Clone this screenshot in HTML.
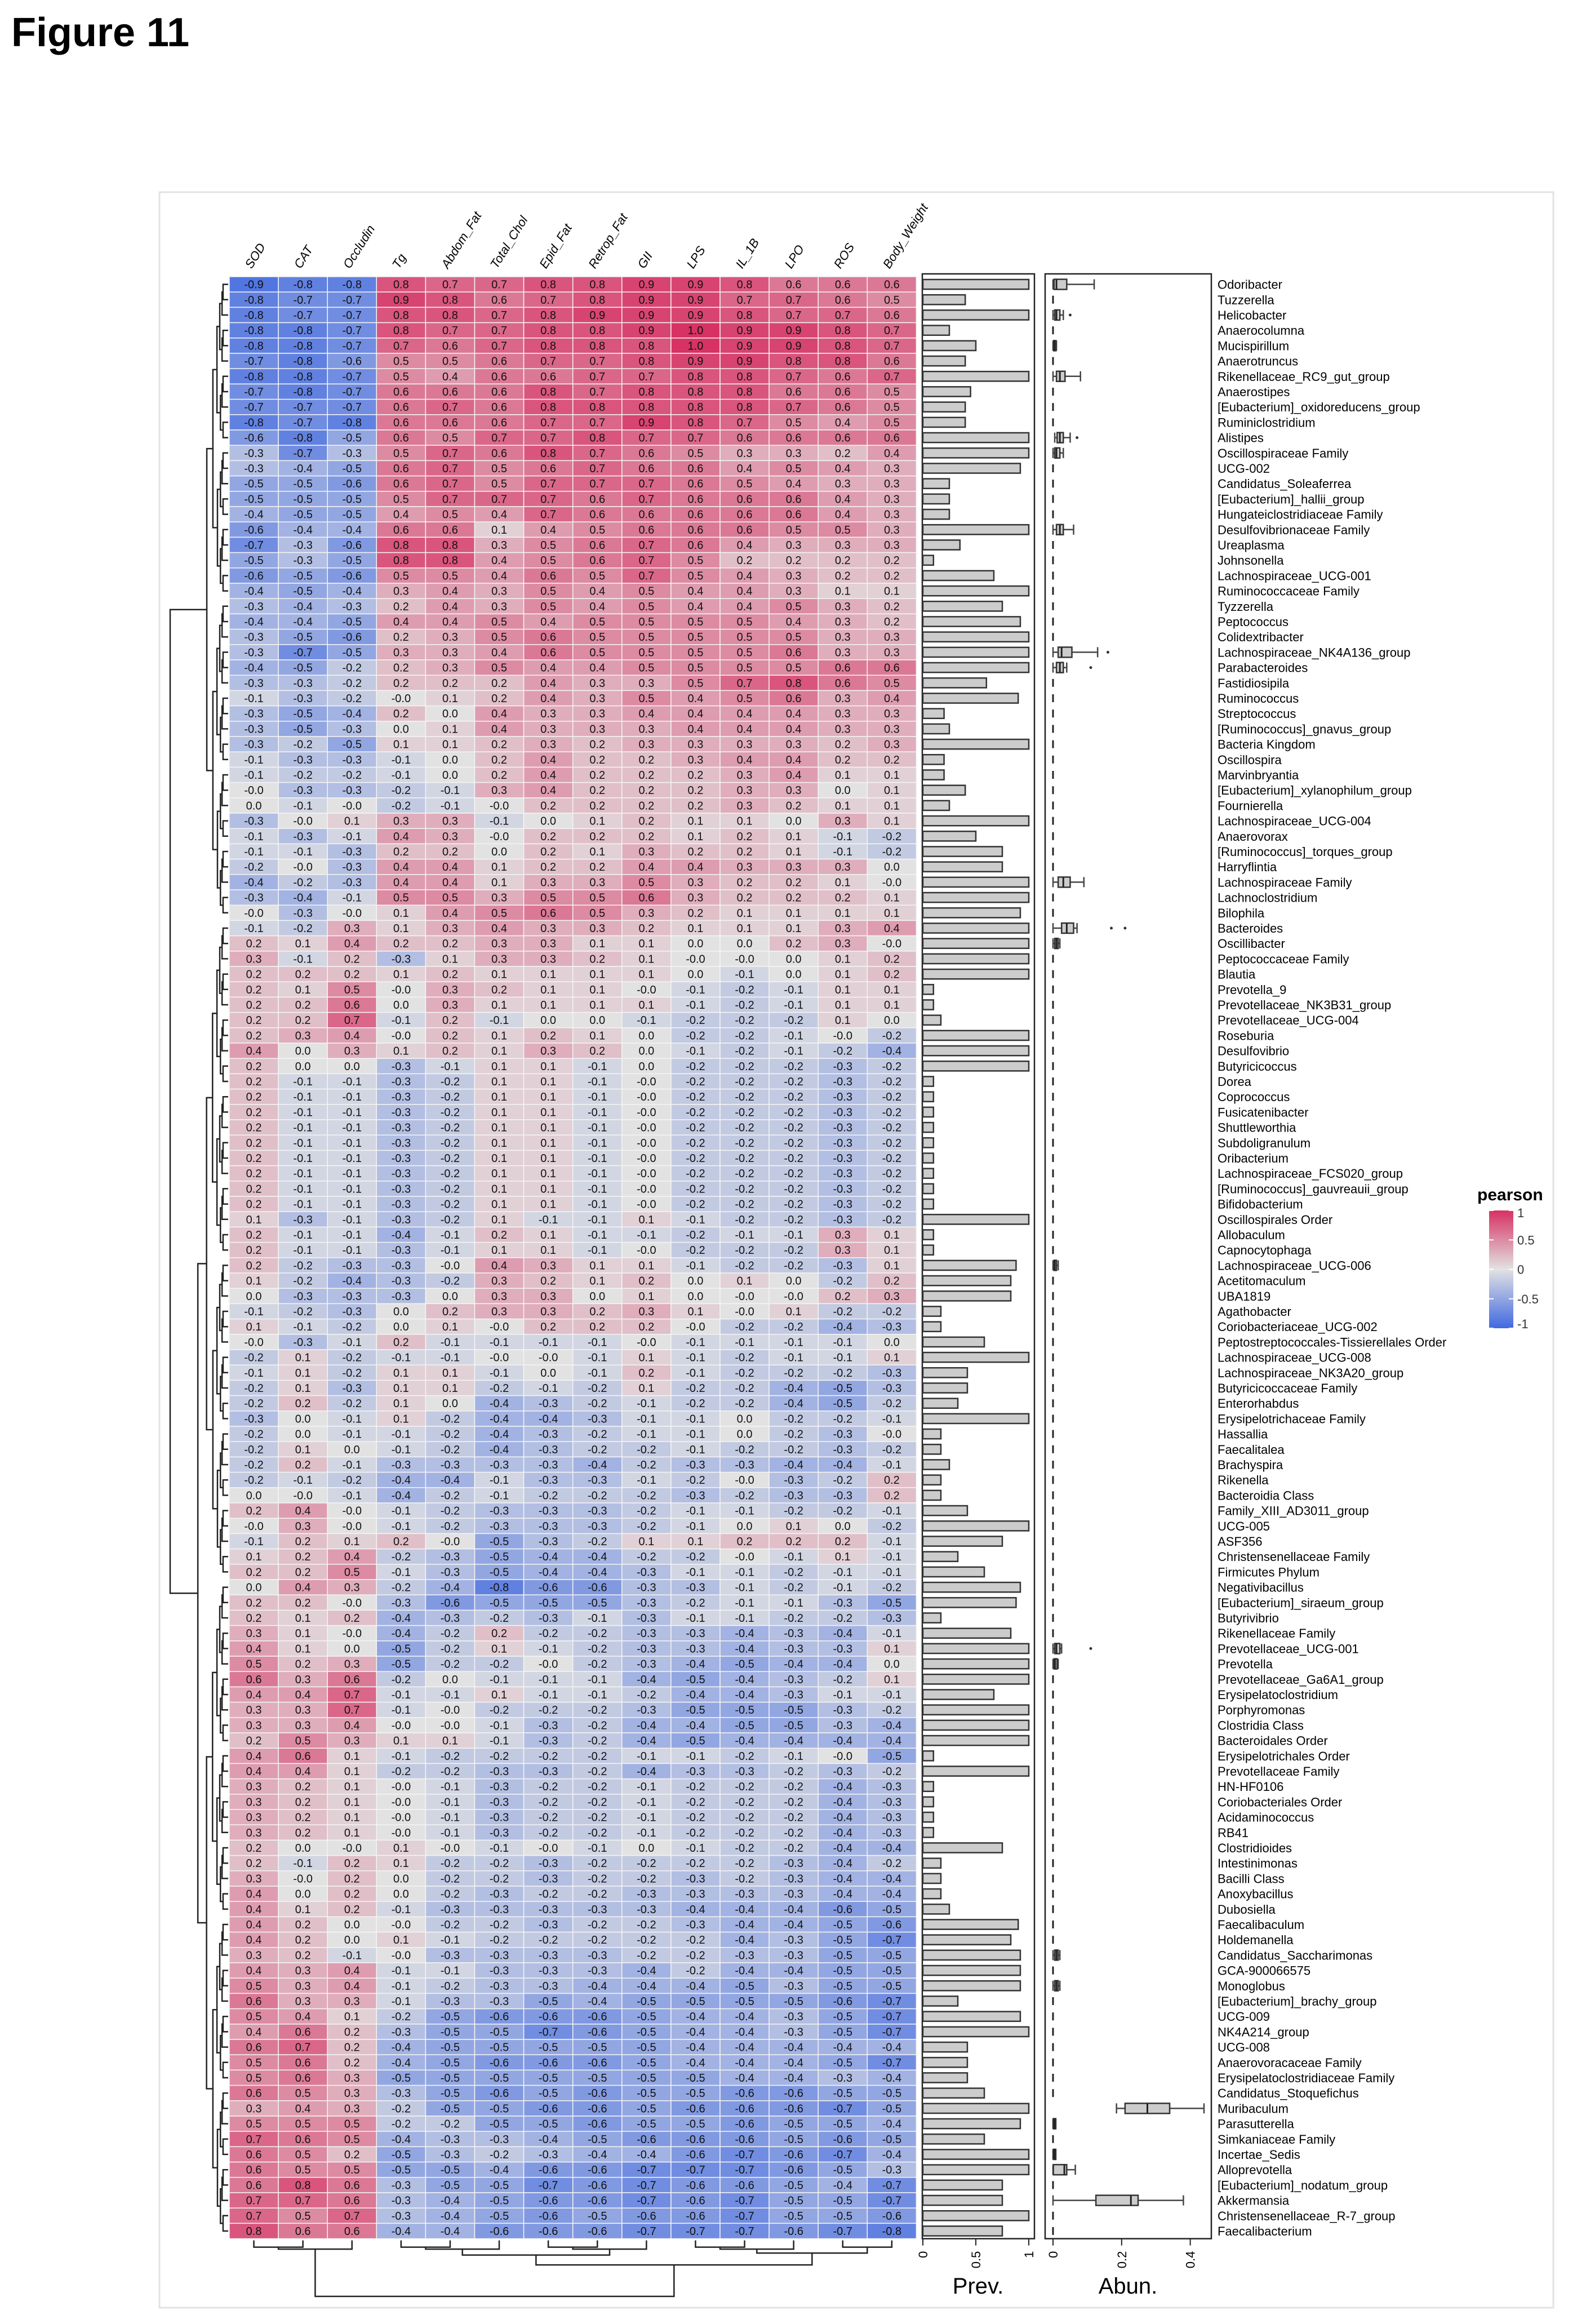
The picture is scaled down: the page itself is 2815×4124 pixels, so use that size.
<!DOCTYPE html>
<html><head><meta charset="utf-8">
<style>
html,body{margin:0;padding:0;background:#fff;}
svg{display:block;}
text{font-family:"Liberation Sans",sans-serif;}
.cv{font-family:"Liberation Sans Narrow","Liberation Sans",sans-serif;font-size:20px;fill:#111;}
</style></head>
<body>
<svg id="fig" width="2815" height="4124" viewBox="0 0 2815 4124" xmlns="http://www.w3.org/2000/svg">
<rect width="2815" height="4124" fill="#fff"/>
<text x="20" y="82" font-size="72" font-weight="bold">Figure 11</text>
<rect x="283" y="341" width="2474" height="3754" fill="none" stroke="#e3e3e3" stroke-width="3"/>
<g id="dendro"></g>
<g id="cdendro"></g>
<g id="heat"></g>
<g id="cols"></g>
<g id="prev"></g>
<g id="abun"></g>
<g id="rows"></g>
<g id="legend">
<defs><linearGradient id="lg" x1="0" y1="0" x2="0" y2="1">
<stop offset="0" stop-color="rgb(215,50,100)"/><stop offset="0.5" stop-color="rgb(226,226,226)"/><stop offset="1" stop-color="rgb(65,105,225)"/></linearGradient></defs>
<text x="2622" y="2130" font-size="30" font-weight="bold">pearson</text>
<rect x="2643" y="2148" width="43" height="209" fill="url(#lg)"/>
</g>
</svg>
<script>
const cols=["SOD","CAT","Occludin","Tg","Abdom_Fat","Total_Chol","Epid_Fat","Retrop_Fat","GII","LPS","IL_1B","LPO","ROS","Body_Weight"];
const taxa=["Odoribacter","Tuzzerella","Helicobacter","Anaerocolumna","Mucispirillum","Anaerotruncus","Rikenellaceae_RC9_gut_group","Anaerostipes","[Eubacterium]_oxidoreducens_group","Ruminiclostridium","Alistipes","Oscillospiraceae Family","UCG-002","Candidatus_Soleaferrea","[Eubacterium]_hallii_group","Hungateiclostridiaceae Family","Desulfovibrionaceae Family","Ureaplasma","Johnsonella","Lachnospiraceae_UCG-001","Ruminococcaceae Family","Tyzzerella","Peptococcus","Colidextribacter","Lachnospiraceae_NK4A136_group","Parabacteroides","Fastidiosipila","Ruminococcus","Streptococcus","[Ruminococcus]_gnavus_group","Bacteria Kingdom","Oscillospira","Marvinbryantia","[Eubacterium]_xylanophilum_group","Fournierella","Lachnospiraceae_UCG-004","Anaerovorax","[Ruminococcus]_torques_group","Harryflintia","Lachnospiraceae Family","Lachnoclostridium","Bilophila","Bacteroides","Oscillibacter","Peptococcaceae Family","Blautia","Prevotella_9","Prevotellaceae_NK3B31_group","Prevotellaceae_UCG-004","Roseburia","Desulfovibrio","Butyricicoccus","Dorea","Coprococcus","Fusicatenibacter","Shuttleworthia","Subdoligranulum","Oribacterium","Lachnospiraceae_FCS020_group","[Ruminococcus]_gauvreauii_group","Bifidobacterium","Oscillospirales Order","Allobaculum","Capnocytophaga","Lachnospiraceae_UCG-006","Acetitomaculum","UBA1819","Agathobacter","Coriobacteriaceae_UCG-002","Peptostreptococcales-Tissierellales Order","Lachnospiraceae_UCG-008","Lachnospiraceae_NK3A20_group","Butyricicoccaceae Family","Enterorhabdus","Erysipelotrichaceae Family","Hassallia","Faecalitalea","Brachyspira","Rikenella","Bacteroidia Class","Family_XIII_AD3011_group","UCG-005","ASF356","Christensenellaceae Family","Firmicutes Phylum","Negativibacillus","[Eubacterium]_siraeum_group","Butyrivibrio","Rikenellaceae Family","Prevotellaceae_UCG-001","Prevotella","Prevotellaceae_Ga6A1_group","Erysipelatoclostridium","Porphyromonas","Clostridia Class","Bacteroidales Order","Erysipelotrichales Order","Prevotellaceae Family","HN-HF0106","Coriobacteriales Order","Acidaminococcus","RB41","Clostridioides","Intestinimonas","Bacilli Class","Anoxybacillus","Dubosiella","Faecalibaculum","Holdemanella","Candidatus_Saccharimonas","GCA-900066575","Monoglobus","[Eubacterium]_brachy_group","UCG-009","NK4A214_group","UCG-008","Anaerovoracaceae Family","Erysipelatoclostridiaceae Family","Candidatus_Stoquefichus","Muribaculum","Parasutterella","Simkaniaceae Family","Incertae_Sedis","Alloprevotella","[Eubacterium]_nodatum_group","Akkermansia","Christensenellaceae_R-7_group","Faecalibacterium"];
const corr=[
[-0.9,-0.8,-0.8,0.8,0.7,0.7,0.8,0.8,0.9,0.9,0.8,0.6,0.6,0.6],
[-0.8,-0.7,-0.7,0.9,0.8,0.6,0.7,0.8,0.9,0.9,0.7,0.7,0.6,0.5],
[-0.8,-0.7,-0.7,0.8,0.8,0.7,0.8,0.9,0.9,0.9,0.8,0.7,0.7,0.6],
[-0.8,-0.8,-0.7,0.8,0.7,0.7,0.8,0.8,0.9,1.0,0.9,0.9,0.8,0.7],
[-0.8,-0.8,-0.7,0.7,0.6,0.7,0.8,0.8,0.8,1.0,0.9,0.9,0.8,0.7],
[-0.7,-0.8,-0.6,0.5,0.5,0.6,0.7,0.7,0.8,0.9,0.9,0.8,0.8,0.6],
[-0.8,-0.8,-0.7,0.5,0.4,0.6,0.6,0.7,0.7,0.8,0.8,0.7,0.6,0.7],
[-0.7,-0.8,-0.7,0.6,0.6,0.6,0.8,0.7,0.8,0.8,0.8,0.6,0.6,0.5],
[-0.7,-0.7,-0.7,0.6,0.7,0.6,0.8,0.8,0.8,0.8,0.8,0.7,0.6,0.5],
[-0.8,-0.7,-0.8,0.6,0.6,0.6,0.7,0.7,0.9,0.8,0.7,0.5,0.4,0.5],
[-0.6,-0.8,-0.5,0.6,0.5,0.7,0.7,0.8,0.7,0.7,0.6,0.6,0.6,0.6],
[-0.3,-0.7,-0.3,0.5,0.7,0.6,0.8,0.7,0.6,0.5,0.3,0.3,0.2,0.4],
[-0.3,-0.4,-0.5,0.6,0.7,0.5,0.6,0.7,0.6,0.6,0.4,0.5,0.4,0.3],
[-0.5,-0.5,-0.6,0.6,0.7,0.5,0.7,0.7,0.7,0.6,0.5,0.4,0.3,0.3],
[-0.5,-0.5,-0.5,0.5,0.7,0.7,0.7,0.6,0.7,0.6,0.6,0.6,0.4,0.3],
[-0.4,-0.5,-0.5,0.4,0.5,0.4,0.7,0.6,0.6,0.6,0.6,0.6,0.4,0.3],
[-0.6,-0.4,-0.4,0.6,0.6,0.1,0.4,0.5,0.6,0.6,0.6,0.5,0.5,0.3],
[-0.7,-0.3,-0.6,0.8,0.8,0.3,0.5,0.6,0.7,0.6,0.4,0.3,0.3,0.3],
[-0.5,-0.3,-0.5,0.8,0.8,0.4,0.5,0.6,0.7,0.5,0.2,0.2,0.2,0.2],
[-0.6,-0.5,-0.6,0.5,0.5,0.4,0.6,0.5,0.7,0.5,0.4,0.3,0.2,0.2],
[-0.4,-0.5,-0.4,0.3,0.4,0.3,0.5,0.4,0.5,0.4,0.4,0.3,0.1,0.1],
[-0.3,-0.4,-0.3,0.2,0.4,0.3,0.5,0.4,0.5,0.4,0.4,0.5,0.3,0.2],
[-0.4,-0.4,-0.5,0.4,0.4,0.5,0.4,0.5,0.5,0.5,0.5,0.4,0.3,0.2],
[-0.3,-0.5,-0.6,0.2,0.3,0.5,0.6,0.5,0.5,0.5,0.5,0.5,0.3,0.3],
[-0.3,-0.7,-0.5,0.3,0.3,0.4,0.6,0.5,0.5,0.5,0.5,0.6,0.3,0.3],
[-0.4,-0.5,-0.2,0.2,0.3,0.5,0.4,0.4,0.5,0.5,0.5,0.5,0.6,0.6],
[-0.3,-0.3,-0.2,0.2,0.2,0.2,0.4,0.3,0.3,0.5,0.7,0.8,0.6,0.5],
[-0.1,-0.3,-0.2,-0.0,0.1,0.2,0.4,0.3,0.5,0.4,0.5,0.6,0.3,0.4],
[-0.3,-0.5,-0.4,0.2,0.0,0.4,0.3,0.3,0.4,0.4,0.4,0.4,0.3,0.3],
[-0.3,-0.5,-0.3,0.0,0.1,0.4,0.3,0.3,0.3,0.4,0.4,0.4,0.3,0.3],
[-0.3,-0.2,-0.5,0.1,0.1,0.2,0.3,0.2,0.3,0.3,0.3,0.3,0.2,0.3],
[-0.1,-0.3,-0.3,-0.1,0.0,0.2,0.4,0.2,0.2,0.3,0.4,0.4,0.2,0.2],
[-0.1,-0.2,-0.2,-0.1,0.0,0.2,0.4,0.2,0.2,0.2,0.3,0.4,0.1,0.1],
[-0.0,-0.3,-0.3,-0.2,-0.1,0.3,0.4,0.2,0.2,0.2,0.3,0.3,0.0,0.1],
[0.0,-0.1,-0.0,-0.2,-0.1,-0.0,0.2,0.2,0.2,0.2,0.3,0.2,0.1,0.1],
[-0.3,-0.0,0.1,0.3,0.3,-0.1,0.0,0.1,0.2,0.1,0.1,0.0,0.3,0.1],
[-0.1,-0.3,-0.1,0.4,0.3,-0.0,0.2,0.2,0.2,0.1,0.2,0.1,-0.1,-0.2],
[-0.1,-0.1,-0.3,0.2,0.2,0.0,0.2,0.1,0.3,0.2,0.2,0.1,-0.1,-0.2],
[-0.2,-0.0,-0.3,0.4,0.4,0.1,0.2,0.2,0.4,0.4,0.3,0.3,0.3,0.0],
[-0.4,-0.2,-0.3,0.4,0.4,0.1,0.3,0.3,0.5,0.3,0.2,0.2,0.1,-0.0],
[-0.3,-0.4,-0.1,0.5,0.5,0.3,0.5,0.5,0.6,0.3,0.2,0.2,0.2,0.1],
[-0.0,-0.3,-0.0,0.1,0.4,0.5,0.6,0.5,0.3,0.2,0.1,0.1,0.1,0.1],
[-0.1,-0.2,0.3,0.1,0.3,0.4,0.3,0.3,0.2,0.1,0.1,0.1,0.3,0.4],
[0.2,0.1,0.4,0.2,0.2,0.3,0.3,0.1,0.1,0.0,0.0,0.2,0.3,-0.0],
[0.3,-0.1,0.2,-0.3,0.1,0.3,0.3,0.2,0.1,-0.0,-0.0,0.0,0.1,0.2],
[0.2,0.2,0.2,0.1,0.2,0.1,0.1,0.1,0.1,0.0,-0.1,0.0,0.1,0.2],
[0.2,0.1,0.5,-0.0,0.3,0.2,0.1,0.1,-0.0,-0.1,-0.2,-0.1,0.1,0.1],
[0.2,0.2,0.6,0.0,0.3,0.1,0.1,0.1,0.1,-0.1,-0.2,-0.1,0.1,0.1],
[0.2,0.2,0.7,-0.1,0.2,-0.1,0.0,0.0,-0.1,-0.2,-0.2,-0.2,0.1,0.0],
[0.2,0.3,0.4,-0.0,0.2,0.1,0.2,0.1,0.0,-0.2,-0.2,-0.1,-0.0,-0.2],
[0.4,0.0,0.3,0.1,0.2,0.1,0.3,0.2,0.0,-0.1,-0.2,-0.1,-0.2,-0.4],
[0.2,0.0,0.0,-0.3,-0.1,0.1,0.1,-0.1,0.0,-0.2,-0.2,-0.2,-0.3,-0.2],
[0.2,-0.1,-0.1,-0.3,-0.2,0.1,0.1,-0.1,-0.0,-0.2,-0.2,-0.2,-0.3,-0.2],
[0.2,-0.1,-0.1,-0.3,-0.2,0.1,0.1,-0.1,-0.0,-0.2,-0.2,-0.2,-0.3,-0.2],
[0.2,-0.1,-0.1,-0.3,-0.2,0.1,0.1,-0.1,-0.0,-0.2,-0.2,-0.2,-0.3,-0.2],
[0.2,-0.1,-0.1,-0.3,-0.2,0.1,0.1,-0.1,-0.0,-0.2,-0.2,-0.2,-0.3,-0.2],
[0.2,-0.1,-0.1,-0.3,-0.2,0.1,0.1,-0.1,-0.0,-0.2,-0.2,-0.2,-0.3,-0.2],
[0.2,-0.1,-0.1,-0.3,-0.2,0.1,0.1,-0.1,-0.0,-0.2,-0.2,-0.2,-0.3,-0.2],
[0.2,-0.1,-0.1,-0.3,-0.2,0.1,0.1,-0.1,-0.0,-0.2,-0.2,-0.2,-0.3,-0.2],
[0.2,-0.1,-0.1,-0.3,-0.2,0.1,0.1,-0.1,-0.0,-0.2,-0.2,-0.2,-0.3,-0.2],
[0.2,-0.1,-0.1,-0.3,-0.2,0.1,0.1,-0.1,-0.0,-0.2,-0.2,-0.2,-0.3,-0.2],
[0.1,-0.3,-0.1,-0.3,-0.2,0.1,-0.1,-0.1,0.1,-0.1,-0.2,-0.2,-0.3,-0.2],
[0.2,-0.1,-0.1,-0.4,-0.1,0.2,0.1,-0.1,-0.1,-0.2,-0.1,-0.1,0.3,0.1],
[0.2,-0.1,-0.1,-0.3,-0.1,0.1,0.1,-0.1,-0.0,-0.2,-0.2,-0.2,0.3,0.1],
[0.2,-0.2,-0.3,-0.3,-0.0,0.4,0.3,0.1,0.1,-0.1,-0.2,-0.2,-0.3,0.1],
[0.1,-0.2,-0.4,-0.3,-0.2,0.3,0.2,0.1,0.2,0.0,0.1,0.0,-0.2,0.2],
[0.0,-0.3,-0.3,-0.3,0.0,0.3,0.3,0.0,0.1,0.0,-0.0,-0.0,0.2,0.3],
[-0.1,-0.2,-0.3,0.0,0.2,0.3,0.3,0.2,0.3,0.1,-0.0,0.1,-0.2,-0.2],
[0.1,-0.1,-0.2,0.0,0.1,-0.0,0.2,0.2,0.2,-0.0,-0.2,-0.2,-0.4,-0.3],
[-0.0,-0.3,-0.1,0.2,-0.1,-0.1,-0.1,-0.1,-0.0,-0.1,-0.1,-0.1,-0.1,0.0],
[-0.2,0.1,-0.2,-0.1,-0.1,-0.0,-0.0,-0.1,0.1,-0.1,-0.2,-0.1,-0.1,0.1],
[-0.1,0.1,-0.2,0.1,0.1,-0.1,0.0,-0.1,0.2,-0.1,-0.2,-0.2,-0.2,-0.3],
[-0.2,0.1,-0.3,0.1,0.1,-0.2,-0.1,-0.2,0.1,-0.2,-0.2,-0.4,-0.5,-0.3],
[-0.2,0.2,-0.2,0.1,0.0,-0.4,-0.3,-0.2,-0.1,-0.2,-0.2,-0.4,-0.5,-0.2],
[-0.3,0.0,-0.1,0.1,-0.2,-0.4,-0.4,-0.3,-0.1,-0.1,0.0,-0.2,-0.2,-0.1],
[-0.2,0.0,-0.1,-0.1,-0.2,-0.4,-0.3,-0.2,-0.1,-0.1,0.0,-0.2,-0.3,-0.0],
[-0.2,0.1,0.0,-0.1,-0.2,-0.4,-0.3,-0.2,-0.2,-0.1,-0.2,-0.2,-0.3,-0.2],
[-0.2,0.2,-0.1,-0.3,-0.3,-0.3,-0.3,-0.4,-0.2,-0.3,-0.3,-0.4,-0.4,-0.1],
[-0.2,-0.1,-0.2,-0.4,-0.4,-0.1,-0.3,-0.3,-0.1,-0.2,-0.0,-0.3,-0.2,0.2],
[0.0,-0.0,-0.1,-0.4,-0.2,-0.1,-0.2,-0.2,-0.2,-0.3,-0.2,-0.3,-0.3,0.2],
[0.2,0.4,-0.0,-0.1,-0.2,-0.3,-0.3,-0.3,-0.2,-0.1,-0.1,-0.2,-0.2,-0.1],
[-0.0,0.3,-0.0,-0.1,-0.2,-0.3,-0.3,-0.3,-0.2,-0.1,0.0,0.1,0.0,-0.2],
[-0.1,0.2,0.1,0.2,-0.0,-0.5,-0.3,-0.2,0.1,0.1,0.2,0.2,0.2,-0.1],
[0.1,0.2,0.4,-0.2,-0.3,-0.5,-0.4,-0.4,-0.2,-0.2,-0.0,-0.1,0.1,-0.1],
[0.2,0.2,0.5,-0.1,-0.3,-0.5,-0.4,-0.4,-0.3,-0.1,-0.1,-0.2,-0.1,-0.1],
[0.0,0.4,0.3,-0.2,-0.4,-0.8,-0.6,-0.6,-0.3,-0.3,-0.1,-0.2,-0.1,-0.2],
[0.2,0.2,-0.0,-0.3,-0.6,-0.5,-0.5,-0.5,-0.3,-0.2,-0.1,-0.1,-0.3,-0.5],
[0.2,0.1,0.2,-0.4,-0.3,-0.2,-0.3,-0.1,-0.3,-0.1,-0.1,-0.2,-0.2,-0.3],
[0.3,0.1,-0.0,-0.4,-0.2,0.2,-0.2,-0.2,-0.3,-0.3,-0.4,-0.3,-0.4,-0.1],
[0.4,0.1,0.0,-0.5,-0.2,0.1,-0.1,-0.2,-0.3,-0.3,-0.4,-0.3,-0.3,0.1],
[0.5,0.2,0.3,-0.5,-0.2,-0.2,-0.0,-0.2,-0.3,-0.4,-0.5,-0.4,-0.4,0.0],
[0.6,0.3,0.6,-0.2,0.0,-0.1,-0.1,-0.1,-0.4,-0.5,-0.4,-0.3,-0.2,0.1],
[0.4,0.4,0.7,-0.1,-0.1,0.1,-0.1,-0.1,-0.2,-0.4,-0.4,-0.3,-0.1,-0.1],
[0.3,0.3,0.7,-0.1,-0.0,-0.2,-0.2,-0.2,-0.3,-0.5,-0.5,-0.5,-0.3,-0.2],
[0.3,0.3,0.4,-0.0,-0.0,-0.1,-0.3,-0.2,-0.4,-0.4,-0.5,-0.5,-0.3,-0.4],
[0.2,0.5,0.3,0.1,0.1,-0.1,-0.3,-0.2,-0.4,-0.5,-0.4,-0.4,-0.4,-0.4],
[0.4,0.6,0.1,-0.1,-0.2,-0.2,-0.2,-0.2,-0.1,-0.1,-0.2,-0.1,-0.0,-0.5],
[0.4,0.4,0.1,-0.2,-0.2,-0.3,-0.3,-0.2,-0.4,-0.3,-0.3,-0.2,-0.3,-0.2],
[0.3,0.2,0.1,-0.0,-0.1,-0.3,-0.2,-0.2,-0.1,-0.2,-0.2,-0.2,-0.4,-0.3],
[0.3,0.2,0.1,-0.0,-0.1,-0.3,-0.2,-0.2,-0.1,-0.2,-0.2,-0.2,-0.4,-0.3],
[0.3,0.2,0.1,-0.0,-0.1,-0.3,-0.2,-0.2,-0.1,-0.2,-0.2,-0.2,-0.4,-0.3],
[0.3,0.2,0.1,-0.0,-0.1,-0.3,-0.2,-0.2,-0.1,-0.2,-0.2,-0.2,-0.4,-0.3],
[0.2,0.0,-0.0,0.1,-0.0,-0.1,-0.0,-0.1,0.0,-0.1,-0.2,-0.2,-0.4,-0.4],
[0.2,-0.1,0.2,0.1,-0.2,-0.2,-0.3,-0.2,-0.2,-0.2,-0.2,-0.3,-0.4,-0.2],
[0.3,-0.0,0.2,0.0,-0.2,-0.2,-0.3,-0.2,-0.2,-0.3,-0.2,-0.3,-0.4,-0.4],
[0.4,0.0,0.2,0.0,-0.2,-0.3,-0.2,-0.2,-0.3,-0.3,-0.3,-0.3,-0.4,-0.4],
[0.4,0.1,0.2,-0.1,-0.3,-0.3,-0.3,-0.3,-0.3,-0.4,-0.4,-0.4,-0.6,-0.5],
[0.4,0.2,0.0,-0.0,-0.2,-0.2,-0.3,-0.2,-0.2,-0.3,-0.4,-0.4,-0.5,-0.6],
[0.4,0.2,0.0,0.1,-0.1,-0.2,-0.2,-0.2,-0.2,-0.2,-0.4,-0.3,-0.5,-0.7],
[0.3,0.2,-0.1,-0.0,-0.3,-0.3,-0.3,-0.3,-0.2,-0.2,-0.3,-0.3,-0.5,-0.5],
[0.4,0.3,0.4,-0.1,-0.1,-0.3,-0.3,-0.3,-0.4,-0.2,-0.4,-0.4,-0.5,-0.5],
[0.5,0.3,0.4,-0.1,-0.2,-0.3,-0.3,-0.4,-0.4,-0.4,-0.5,-0.3,-0.5,-0.5],
[0.6,0.3,0.3,-0.1,-0.3,-0.3,-0.5,-0.4,-0.5,-0.5,-0.5,-0.5,-0.6,-0.7],
[0.5,0.4,0.1,-0.2,-0.5,-0.6,-0.6,-0.6,-0.5,-0.4,-0.4,-0.3,-0.5,-0.7],
[0.4,0.6,0.2,-0.3,-0.5,-0.5,-0.7,-0.6,-0.5,-0.4,-0.4,-0.3,-0.5,-0.7],
[0.6,0.7,0.2,-0.4,-0.5,-0.5,-0.5,-0.5,-0.5,-0.4,-0.4,-0.4,-0.4,-0.4],
[0.5,0.6,0.2,-0.4,-0.5,-0.6,-0.6,-0.6,-0.5,-0.4,-0.4,-0.4,-0.5,-0.7],
[0.5,0.6,0.3,-0.5,-0.5,-0.5,-0.5,-0.5,-0.5,-0.5,-0.4,-0.4,-0.3,-0.4],
[0.6,0.5,0.3,-0.3,-0.5,-0.6,-0.5,-0.6,-0.5,-0.5,-0.6,-0.6,-0.5,-0.5],
[0.3,0.4,0.3,-0.2,-0.5,-0.5,-0.6,-0.6,-0.5,-0.6,-0.6,-0.6,-0.7,-0.5],
[0.5,0.5,0.5,-0.2,-0.2,-0.5,-0.5,-0.6,-0.5,-0.5,-0.6,-0.5,-0.5,-0.4],
[0.7,0.6,0.5,-0.4,-0.3,-0.3,-0.4,-0.5,-0.6,-0.6,-0.6,-0.5,-0.6,-0.5],
[0.6,0.5,0.2,-0.5,-0.3,-0.2,-0.3,-0.4,-0.4,-0.6,-0.7,-0.6,-0.7,-0.4],
[0.6,0.5,0.5,-0.5,-0.5,-0.4,-0.6,-0.6,-0.7,-0.7,-0.7,-0.6,-0.5,-0.3],
[0.6,0.8,0.6,-0.3,-0.5,-0.5,-0.7,-0.6,-0.7,-0.6,-0.6,-0.5,-0.4,-0.7],
[0.7,0.7,0.6,-0.3,-0.4,-0.5,-0.6,-0.6,-0.7,-0.6,-0.7,-0.5,-0.5,-0.7],
[0.7,0.5,0.7,-0.3,-0.4,-0.5,-0.6,-0.5,-0.6,-0.6,-0.7,-0.5,-0.5,-0.6],
[0.8,0.6,0.6,-0.4,-0.4,-0.6,-0.6,-0.6,-0.7,-0.7,-0.7,-0.6,-0.7,-0.8]
];
const prevalence=[1,0.4,1,0.25,0.5,0.4,1,0.45,0.4,0.4,1,1,0.92,0.25,0.25,0.25,1,0.35,0.1,0.67,1,0.75,0.92,1,1,1,0.6,0.9,0.2,0.25,1,0.2,0.2,0.4,0.25,1,0.5,0.75,0.75,1,1,0.92,1,1,1,1,0.1,0.1,0.17,1,1,1,0.1,0.1,0.1,0.1,0.1,0.1,0.1,0.1,0.1,1,0.1,0.1,0.88,0.83,0.83,0.17,0.17,0.58,1,0.42,0.42,0.33,1,0.17,0.17,0.25,0.17,0.17,0.42,1,0.75,0.33,0.58,0.92,0.88,0.17,0.83,1,1,1,0.67,1,1,1,0.1,1,0.1,0.1,0.1,0.1,0.75,0.17,0.17,0.17,0.25,0.9,0.83,0.92,0.92,0.92,0.33,0.92,1,0.42,0.42,0.42,0.58,1,0.92,0.58,1,1,0.75,0.75,1,0.75];
const prevTicks=[0,0.5,1];
const abunTicks=[0,0.2,0.4];
const abunTaxa=["Odoribacter","Helicobacter","Mucispirillum","Rikenellaceae_RC9_gut_group","Alistipes","Oscillospiraceae Family","Desulfovibrionaceae Family","Lachnospiraceae_NK4A136_group","Parabacteroides","Lachnospiraceae Family","Bacteroides","Oscillibacter","Lachnospiraceae_UCG-006","Prevotellaceae_UCG-001","Prevotella","Candidatus_Saccharimonas","Monoglobus","Muribaculum","Parasutterella","Incertae_Sedis","Alloprevotella","Akkermansia"];
const abunMin=[0,0,0,0,0.005,0,0,0,0,0,0,0,0,0,0,0,0,0.185,0,0,0,0];
const abunQ1=[0.003,0.005,0.002,0.01,0.012,0.005,0.01,0.015,0.01,0.015,0.025,0.005,0.003,0.005,0.003,0.005,0.005,0.21,0.001,0.001,0.001,0.125];
const abunMed=[0.01,0.01,0.004,0.02,0.02,0.01,0.02,0.025,0.02,0.03,0.04,0.01,0.005,0.01,0.006,0.01,0.01,0.275,0.004,0.004,0.033,0.227];
const abunQ3=[0.04,0.02,0.008,0.035,0.03,0.02,0.03,0.055,0.03,0.05,0.06,0.015,0.01,0.02,0.012,0.015,0.015,0.34,0.008,0.008,0.04,0.248];
const abunMax=[0.12,0.03,0.01,0.08,0.05,0.03,0.06,0.13,0.04,0.09,0.07,0.02,0.015,0.025,0.015,0.02,0.02,0.44,0.008,0.008,0.065,0.38];
const abunOutliers=[[],[0.05],[],[],[0.07],[],[],[0.16],[0.11],[],[0.17,0.21],[],[],[0.11],[],[],[],[],[],[],[],[]];

const NS="http://www.w3.org/2000/svg";
function mk(tag,attrs,parent){const e=document.createElementNS(NS,tag);for(const k in attrs)e.setAttribute(k,attrs[k]);parent.appendChild(e);return e;}
const X0=407,CW=87.1,Y0=491,RH=27.2;
const xCol=j=>X0+j*CW;
const yRow=i=>Y0+i*RH;
function color(v){const m=[226,226,226],b=[65,105,225],r=[215,50,100];const t=Math.min(1,Math.abs(v));const c=v<0?b:r;return `rgb(${m.map((q,k)=>Math.round(q+t*(c[k]-q))).join(',')})`;}
const heat=document.getElementById('heat');
corr.forEach((row,i)=>{row.forEach((v,j)=>{
 const r=mk('rect',{x:xCol(j),y:yRow(i),width:CW,height:RH,fill:color(v),stroke:'#f4f4f4','stroke-width':1.5},heat);
 
 
 const t=mk('text',{x:xCol(j)+CW/2,y:yRow(i)+RH/2+7,'text-anchor':'middle',class:'cv'},heat);
 t.textContent=(Object.is(v,-0)?'-0.0':v.toFixed(1));
 
 
});});
const HB=yRow(128);
const cg=document.getElementById('cols');
cols.forEach((c,j)=>{const x=xCol(j)+CW/2-4,y=478;
 const t=mk('text',{x:x,y:y,'font-size':22,transform:`rotate(-58 ${x} ${y})`,'font-style':'italic'},cg);t.textContent=c;
 
 });
const rg=document.getElementById('rows');
taxa.forEach((n,i)=>{const t=mk('text',{x:2161,y:yRow(i)+RH/2+8,'font-size':22},rg);t.textContent=n;
 
 });
// prevalence
const pg=document.getElementById('prev');
const PX0=1638,PX1=1826;
const xPrev=v=>PX0+v*(PX1-PX0);
mk('rect',{x:1637,y:486,width:199,height:HB-486,fill:'none',stroke:'#222','stroke-width':2.5},pg);
prevalence.forEach((v,i)=>{const r=mk('rect',{x:xPrev(0),y:yRow(i)+5,width:xPrev(v)-xPrev(0),height:RH-10,fill:'#cccccc',stroke:'#333','stroke-width':2.5},pg);
 
 });
prevTicks.forEach(t=>{const x=xPrev(t);mk('line',{x1:x,y1:HB,x2:x,y2:HB+12,stroke:'#222','stroke-width':2},pg);
 const tx=mk('text',{x:x+8,y:HB+22,'font-size':22,'text-anchor':'end',transform:`rotate(-90 ${x+8} ${HB+22})`},pg);tx.textContent=String(t);
 
 });
const pl=mk('text',{x:1736,y:4070,'font-size':40,'text-anchor':'middle'},pg);pl.textContent='Prev.';


// abundance
const ag=document.getElementById('abun');
const AX0=1869,AS=609;
const xAb=v=>AX0+v*AS;
mk('rect',{x:1855,y:486,width:295,height:HB-486,fill:'none',stroke:'#222','stroke-width':2.5},ag);
taxa.forEach((n,i)=>{const k=abunTaxa.indexOf(n);const cy=yRow(i)+RH/2;
 if(k<0){const l=mk('line',{x1:xAb(0),y1:cy-7,x2:xAb(0),y2:cy+7,stroke:'#222','stroke-width':3},ag);
  
  return;}
 const g=mk('g',{},ag);
 
 
 mk('line',{x1:xAb(abunMin[k]),y1:cy,x2:xAb(abunQ1[k]),y2:cy,stroke:'#444','stroke-width':2.5},g);
 mk('line',{x1:xAb(abunQ3[k]),y1:cy,x2:xAb(abunMax[k]),y2:cy,stroke:'#444','stroke-width':2.5},g);
 mk('line',{x1:xAb(abunMax[k]),y1:cy-9,x2:xAb(abunMax[k]),y2:cy+9,stroke:'#444','stroke-width':2.5},g);
 mk('line',{x1:xAb(abunMin[k]),y1:cy-9,x2:xAb(abunMin[k]),y2:cy+9,stroke:'#444','stroke-width':2.5},g);
 mk('rect',{x:xAb(abunQ1[k]),y:cy-9,width:Math.max(4,xAb(abunQ3[k])-xAb(abunQ1[k])),height:18,fill:'#cccccc',stroke:'#333','stroke-width':2.5},g);
 mk('line',{x1:xAb(abunMed[k]),y1:cy-9,x2:xAb(abunMed[k]),y2:cy+9,stroke:'#222','stroke-width':3},g);
 abunOutliers[k].forEach(o=>mk('circle',{cx:xAb(o),cy:cy,r:2.5,fill:'#333'},g));
});
abunTicks.forEach(t=>{const x=xAb(t);mk('line',{x1:x,y1:HB,x2:x,y2:HB+12,stroke:'#222','stroke-width':2},ag);
 const tx=mk('text',{x:x+8,y:HB+22,'font-size':22,'text-anchor':'end',transform:`rotate(-90 ${x+8} ${HB+22})`},ag);tx.textContent=String(t);
 
 });
const al=mk('text',{x:2002,y:4070,'font-size':40,'text-anchor':'middle'},ag);al.textContent='Abun.';


// legend ticks
const lg=document.getElementById('legend');
const legendTicks=[1,0.5,0,-0.5,-1];
legendTicks.forEach(v=>{const y=2148+(1-v)/2*209;
 mk('line',{x1:2643,y1:y,x2:2651,y2:y,stroke:'#fff','stroke-width':2},lg);
 mk('line',{x1:2678,y1:y,x2:2686,y2:y,stroke:'#fff','stroke-width':2},lg);
 const t=mk('text',{x:2693,y:Math.min(2357,Math.max(2160,y+8)),'font-size':22,fill:'#333'},lg);t.textContent=String(v);
 
 });
// row dendrogram (decorative)
const dg=document.getElementById('dendro');
function tree(lo,hi,root){
 const n=hi-lo+1;
 if(n===1)return {y:yRow(lo)+RH/2,x:405};
 const mid=root?lo+41:Math.floor((lo+hi)/2);
 const a=tree(lo,mid,false),b=tree(mid+1,hi,false);
 const x=root?302:404-5.7*Math.sqrt(n);
 mk('path',{d:`M${a.x},${a.y}H${x}V${b.y}H${b.x}`,fill:'none',stroke:'#222','stroke-width':2.5},dg);
 return {y:(a.y+b.y)/2,x:x};
}
tree(0,127,true);
// column dendrogram (decorative)
const cdg=document.getElementById('cdendro');
function ctree(lo,hi,root){
 const n=hi-lo+1;
 if(n===1)return {x:xCol(lo)+CW/2,y:HB+3};
 const mid=root?lo+2:Math.floor((lo+hi)/2);
 const a=ctree(lo,mid,false),b=ctree(mid+1,hi,false);
 const y=root?4075:HB+8+3.5*n;
 mk('path',{d:`M${a.x},${a.y}V${y}H${b.x}V${b.y}`,fill:'none',stroke:'#222','stroke-width':2.5},cdg);
 return {x:(a.x+b.x)/2,y:y};
}
ctree(0,13,true);
</script>
</body></html>
